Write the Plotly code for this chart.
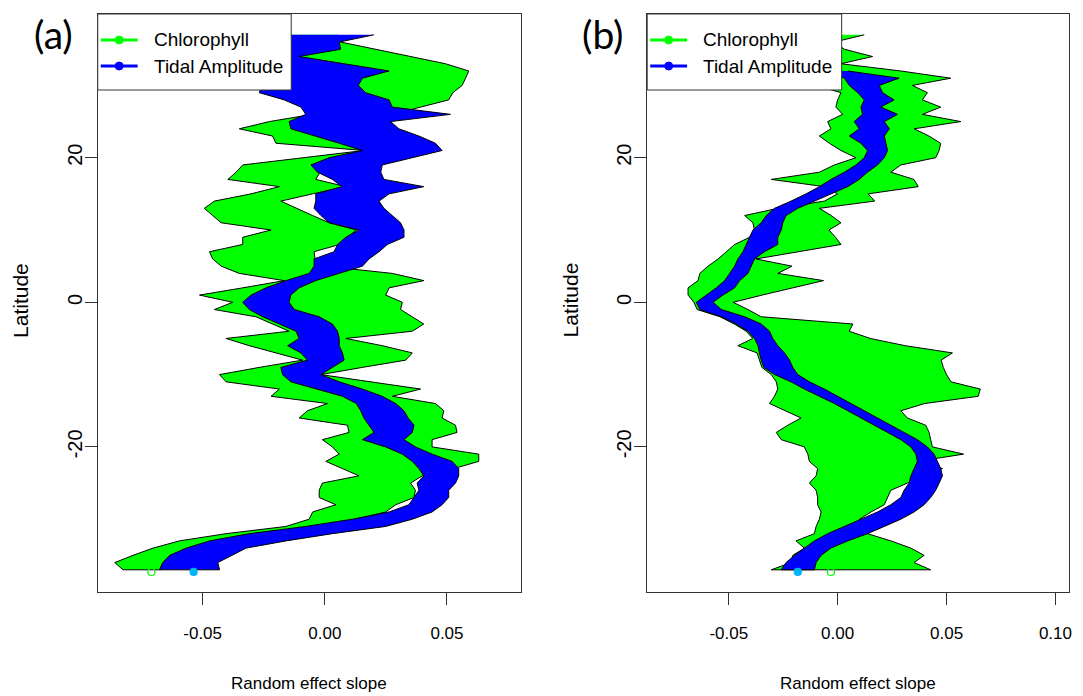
import plotly.graph_objects as go

# ---------------- data ----------------
lat_full = list(range(37, -38, -1))      # 37 .. -37
lat_b_blue = list(range(32, -38, -1))    # 32 .. -37

# Panel (a) - Chlorophyll band (lower / upper), lat 37 .. -37
a_chl_lo = [-0.015, -0.015, -0.015, -0.015, -0.015, -0.015, -0.015, -0.015, -0.015, -0.015,
            -0.0084, -0.005, -0.0227, -0.035, -0.0214, -0.020, 0.016, -0.0088, -0.0336, -0.0363,
            -0.0397, -0.0186, -0.0302, -0.0452, -0.0493, -0.0459, -0.0424, -0.022, -0.0336, -0.0336,
            -0.0472, -0.0459, -0.0424, -0.035, -0.0166, -0.0336, -0.0513, -0.0377, -0.0452, -0.0282,
            -0.0214, -0.0146, -0.0404, -0.0309, -0.020, -0.0091, -0.0268, -0.0431, -0.0404, -0.0186,
            -0.022, 0.0011, -0.0071, -0.0105, 0.0093, 0.0099, -0.001, 0.0031, 0.0059, 0.0004,
            0.0072, 0.014, -0.001, -0.0023, -0.0023, 0.0045, -0.005, -0.0064, -0.0159, -0.0404,
            -0.0595, -0.0703, -0.0785, -0.086, -0.0826]
a_chl_hi = [0.005, 0.0065, 0.0199, 0.0347, 0.0494, 0.0589, 0.0576, 0.0562, 0.0524, 0.0507,
            0.0392, 0.0276, 0.0031, 0.0, 0.0, 0.010, 0.030, 0.010, -0.003, -0.002,
            -0.0037, 0.0086, -0.005, -0.018, -0.0118, -0.005, 0.0018, 0.013, 0.009, 0.006,
            -0.0044, -0.004, 0.0, 0.0276, 0.0405, 0.0263, 0.0249, 0.0317, 0.031, 0.0358,
            0.0405, 0.0358, 0.0086, 0.0235, 0.0358, 0.0331, 0.0154, -0.0016, 0.0195, 0.0392,
            0.0276, 0.0453, 0.0487, 0.048, 0.0535, 0.0541, 0.0439, 0.0439, 0.063, 0.063,
            0.0528, 0.0399, 0.0351, 0.0371, 0.0365, 0.029, 0.0249, 0.0127, -0.0037, -0.0268,
            -0.0445, -0.0554, -0.0629, -0.0663, -0.0676]
# Panel (a) - Tidal amplitude band, lat 37 .. -37
a_tide_lo = [-0.020, -0.020, -0.020, -0.020, -0.022, -0.024, -0.025, -0.026, -0.0268, -0.0166,
             -0.0098, -0.0078, -0.0146, -0.0139, -0.0037, 0.0059, 0.0154, 0.0018, -0.0057, -0.003,
             0.0031, 0.007, -0.0037, -0.0037, -0.0044, -0.0016, 0.0018, 0.014, 0.0086, 0.0052,
             0.0038, -0.0044, -0.0044, -0.0064, -0.0159, -0.0241, -0.0302, -0.0336, -0.0309, -0.0254,
             -0.0186, -0.0118, -0.0105, -0.0152, -0.0098, -0.0071, -0.018, -0.0173, -0.0139, -0.0037,
             0.0072, 0.0129, 0.0147, 0.016, 0.0181, 0.0201, 0.0154, 0.0249, 0.0317, 0.0358,
             0.0385, 0.0405, 0.0378, 0.0385, 0.0365, 0.0344, 0.0263, 0.0113, -0.0078, -0.0309,
             -0.0472, -0.0567, -0.0635, -0.0663, -0.0676]
a_tide_hi = [0.0201, 0.0059, 0.0065, -0.0105, 0.0079, 0.0263, 0.0154, 0.0137, 0.0167, 0.0263,
             0.0276, 0.0514, 0.0269, 0.0303, 0.0385, 0.0453, 0.048, 0.0358, 0.0235, 0.0229,
             0.0242, 0.0405, 0.0263, 0.0222, 0.0242, 0.0276, 0.031, 0.0324, 0.0324, 0.0256,
             0.0222, 0.0181, 0.0154, 0.0059, -0.0037, -0.0105, -0.0139, -0.0146, -0.0125, -0.0023,
             0.0031, 0.0052, 0.0059, 0.0059, 0.0072, 0.0079, 0.0031, -0.0016, 0.0059, 0.0154,
             0.0235, 0.029, 0.0324, 0.0341, 0.0365, 0.0358, 0.0324, 0.0371, 0.0439, 0.0521,
             0.0548, 0.0548, 0.0535, 0.0507, 0.0507, 0.048, 0.0439, 0.0358, 0.0249, 0.0031,
             -0.0159, -0.0322, -0.0377, -0.0438, -0.0431]

# Panel (b) - Chlorophyll band, lat 37 .. -37
b_chl_lo = [-0.010, -0.010, -0.010, -0.010, -0.010, -0.010, -0.010, -0.010, 0.0015, 0.0,
            -0.0008, 0.0023, -0.0046, -0.0031, -0.0084, -0.0038, 0.0015, 0.0084, -0.0015, -0.0084,
            -0.0305, -0.0061, 0.0, -0.0061, -0.0275, -0.0427, -0.0389, -0.0382, -0.0404, -0.0473,
            -0.0511, -0.0549, -0.0595, -0.0633, -0.0641, -0.0687, -0.0687, -0.066, -0.0645, -0.054,
            -0.0475, -0.042, -0.039, -0.0458, -0.037, -0.036, -0.0348, -0.0305, -0.0282, -0.0275,
            -0.029, -0.0313, -0.024, -0.0168, -0.0229, -0.0282, -0.0259, -0.0153, -0.0137, -0.013,
            -0.0092, -0.0099, -0.013, -0.0099, -0.0092, -0.0092, -0.0076, -0.0084, -0.0099, -0.0107,
            -0.0191, -0.0153, -0.0206, -0.0214, -0.0305]
b_chl_hi = [0.0122, -0.0015, 0.0031, 0.016, 0.0015, 0.029, 0.0519, 0.0343, 0.0412, 0.0389,
            0.0473, 0.0389, 0.0565, 0.0351, 0.0419, 0.0473, 0.0466, 0.045, 0.029, 0.0244,
            0.035, 0.037, 0.014, 0.017, -0.0084, -0.003, 0.0015, -0.004, -0.001, 0.0015,
            -0.0175, -0.0375, -0.021, -0.0275, -0.0065, -0.0205, -0.0347, -0.048, -0.0412, -0.0351,
            0.007, 0.0053, 0.015, 0.031, 0.0527, 0.0475, 0.0485, 0.05, 0.052, 0.0655,
            0.0645, 0.04, 0.029, 0.032, 0.0404, 0.042, 0.0427, 0.0435, 0.0578, 0.0366,
            0.0481, 0.0412, 0.0321, 0.0244, 0.0229, 0.0214, 0.0153, 0.010, 0.010, 0.0137,
            0.0244, 0.0336, 0.0397, 0.0351, 0.0427]
# Panel (b) - Tidal amplitude band, lat 32 .. -37
b_tide_lo = [-0.005, 0.0031, 0.0053, 0.0092, 0.0122, 0.0107, 0.0114, 0.0076, 0.0099, 0.0053,
             0.0107, 0.0137, 0.0122, 0.0084, 0.0031, -0.0031, -0.0084, -0.0145, -0.0214, -0.029,
             -0.0328, -0.0351, -0.0389, -0.0404, -0.042, -0.0435, -0.0458, -0.0473, -0.0496, -0.0519,
             -0.0557, -0.0603, -0.0649, -0.0633, -0.0534, -0.0466, -0.0412, -0.0382, -0.0366, -0.0359,
             -0.0351, -0.0339, -0.029, -0.0214, -0.0153, -0.0084, -0.0015, 0.0046, 0.0107, 0.0168,
             0.0229, 0.029, 0.0336, 0.0359, 0.0366, 0.0351, 0.0336, 0.0328, 0.0305, 0.029,
             0.0244, 0.0183, 0.0107, 0.0031, -0.0046, -0.0107, -0.0153, -0.0198, -0.0237, -0.0259]
b_tide_hi = [0.0046, 0.0282, 0.0191, 0.0206, 0.0259, 0.0198, 0.0275, 0.0214, 0.0237, 0.0214,
             0.0221, 0.0229, 0.0214, 0.0183, 0.0137, 0.0099, 0.0046, -0.0023, -0.0107, -0.0183,
             -0.0237, -0.0252, -0.0259, -0.0275, -0.0275, -0.0336, -0.0382, -0.0397, -0.0412, -0.045,
             -0.0473, -0.0527, -0.0572, -0.0534, -0.0427, -0.0351, -0.0313, -0.0298, -0.0275, -0.0244,
             -0.0221, -0.0206, -0.0183, -0.013, -0.0061, 0.0, 0.0061, 0.0122, 0.0183, 0.0244,
             0.0305, 0.0366, 0.0412, 0.0443, 0.0458, 0.0473, 0.0481, 0.0466, 0.045, 0.0427,
             0.0397, 0.0351, 0.029, 0.0214, 0.0137, 0.0046, -0.0031, -0.0076, -0.0099, -0.0107]

# mean points drawn at the bottom of each panel
a_chl_mean, a_tide_mean = -0.0710, -0.0537
b_chl_mean, b_tide_mean = -0.0031, -0.0183
mean_lat = -37.3

x_ticks_a = [-0.05, 0.0, 0.05]
x_ticks_b = [-0.05, 0.0, 0.05, 0.10]
y_ticks = [-20, 0, 20]
series_names = ["Chlorophyll", "Tidal Amplitude"]

# ---------------- style ----------------
OFF = 8                      # page body margin
W, H = 1083 - OFF, 696 - OFF
GREEN, BLUE, CYAN = "#00FF00", "#0000FF", "#00B4FF"
FRAME = "#333333"
FONT = "Liberation Sans, Arial, sans-serif"


def fx(px):
    return (px - OFF) / W


def fy(py):
    return 1 - (py - OFF) / H


def band(lo, hi, lats, color, xa, ya):
    return go.Scatter(x=list(lo) + list(hi)[::-1], y=list(lats) + list(lats)[::-1],
                      mode="lines", fill="toself", fillcolor=color,
                      line=dict(color="black", width=1), xaxis=xa, yaxis=ya,
                      showlegend=False, hoverinfo="skip")


fig = go.Figure()
fig.add_trace(band(a_chl_lo, a_chl_hi, lat_full, GREEN, "x", "y"))
fig.add_trace(band(a_tide_lo, a_tide_hi, lat_full, BLUE, "x", "y"))
fig.add_trace(band(b_chl_lo, b_chl_hi, lat_full, GREEN, "x2", "y2"))
fig.add_trace(band(b_tide_lo, b_tide_hi, lat_b_blue, BLUE, "x2", "y2"))

for xv, xa, ya, sym, col in [(a_chl_mean, "x", "y", "circle-open", GREEN),
                             (a_tide_mean, "x", "y", "circle", CYAN),
                             (b_chl_mean, "x2", "y2", "circle-open", GREEN),
                             (b_tide_mean, "x2", "y2", "circle", CYAN)]:
    fig.add_trace(go.Scatter(x=[xv], y=[mean_lat], mode="markers", xaxis=xa, yaxis=ya,
                             marker=dict(symbol=sym, size=7, color=col, line=dict(color=col, width=1.2)),
                             showlegend=False, hoverinfo="skip"))

axis_common = dict(showgrid=False, zeroline=False, showline=True, mirror=True,
                   linecolor=FRAME, linewidth=1, ticks="outside", ticklen=12,
                   tickcolor=FRAME, tickwidth=1)
xfont = dict(family=FONT, size=17, color="black")
yfont = dict(family=FONT, size=20, color="black")

fig.update_layout(
    width=W, height=H, margin=dict(l=0, r=0, t=0, b=0),
    paper_bgcolor="white", plot_bgcolor="white", showlegend=False,
    xaxis=dict(domain=[fx(98), fx(522)], range=[-0.09294, 0.08012], anchor="y",
               tickvals=x_ticks_a, ticktext=[f"{v:.2f}" for v in x_ticks_a],
               ticklabelstandoff=14, tickfont=xfont, **axis_common),
    yaxis=dict(domain=[fy(592), fy(14)], range=[-40.07, 39.88], anchor="x",
               tickvals=y_ticks, ticktext=[str(v) for v in y_ticks], tickangle=-90,
               ticklabelstandoff=-5, tickfont=yfont, **axis_common),
    xaxis2=dict(domain=[fx(649), fx(1072)], range=[-0.08745, 0.10623], anchor="y2",
                tickvals=x_ticks_b, ticktext=[f"{v:.2f}" for v in x_ticks_b],
                ticklabelstandoff=14, tickfont=xfont, **axis_common),
    yaxis2=dict(domain=[fy(592), fy(14)], range=[-40.07, 39.88], anchor="x2",
                tickvals=y_ticks, ticktext=[str(v) for v in y_ticks], tickangle=-90,
                ticklabelstandoff=-5, tickfont=yfont, **axis_common),
)

shapes, annotations = [], []
for left, right, tag, xcen, ylab_x in [(98, 292, "(a)", 310, 20), (649, 844, "(b)", 860.5, 572)]:
    # legend box
    shapes.append(dict(type="rect", xref="paper", yref="paper", layer="above",
                       x0=fx(left), x1=fx(right), y0=fy(90), y1=fy(14),
                       line=dict(color=FRAME, width=1), fillcolor="white"))
    for name, col, py in [(series_names[0], GREEN, 40), (series_names[1], BLUE, 66)]:
        shapes.append(dict(type="line", xref="paper", yref="paper", layer="above",
                           x0=fx(left + 3), x1=fx(left + 40), y0=fy(py), y1=fy(py),
                           line=dict(color=col, width=3)))
        cx = left + 21.5
        shapes.append(dict(type="circle", xref="paper", yref="paper", layer="above",
                           x0=fx(cx - 4), x1=fx(cx + 4), y0=fy(py + 4), y1=fy(py - 4),
                           line=dict(color=col, width=1), fillcolor=col))
        annotations.append(dict(text=name, xref="paper", yref="paper", x=fx(left + 54), y=fy(py),
                                xanchor="left", yanchor="middle", showarrow=False,
                                font=dict(family=FONT, size=19, color="black")))
    # panel tag
    annotations.append(dict(text=tag, xref="paper", yref="paper", x=fx(left - 44), y=fy(34),
                            xanchor="center", yanchor="middle", showarrow=False, borderpad=0,
                            font=dict(family="Lato, Open Sans, sans-serif", size=39, color="black")))
    # axis titles
    annotations.append(dict(text="Random effect slope", xref="paper", yref="paper",
                            x=fx(xcen), y=fy(683), xanchor="center", yanchor="middle",
                            showarrow=False, font=dict(family=FONT, size=17, color="black")))
    annotations.append(dict(text="Latitude", xref="paper", yref="paper", x=fx(ylab_x), y=fy(300),
                            xanchor="center", yanchor="middle", textangle=-90, showarrow=False,
                            font=dict(family=FONT, size=21, color="black")))

fig.update_layout(shapes=shapes, annotations=annotations)
fig.write_html("out.html")
